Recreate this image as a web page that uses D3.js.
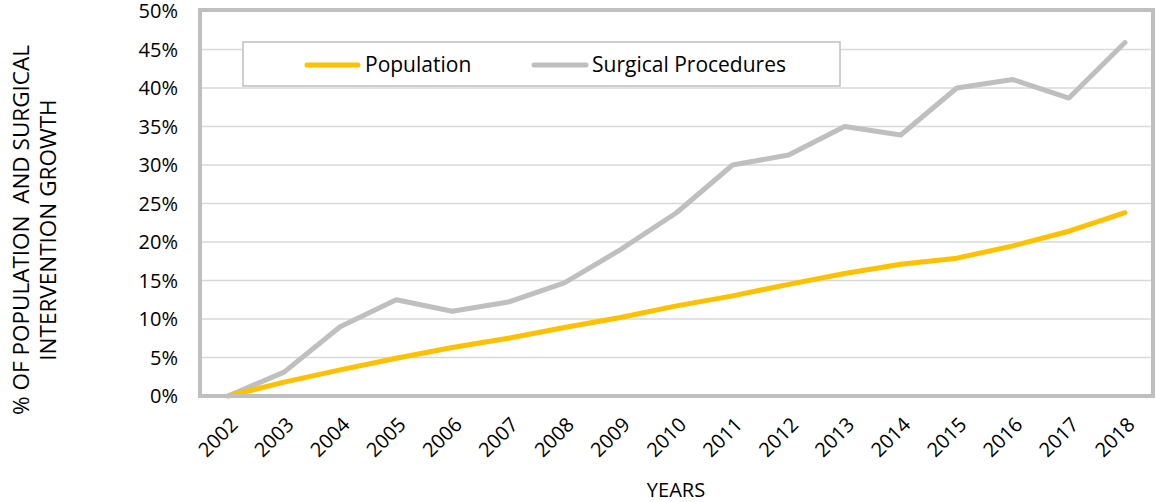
<!DOCTYPE html>
<html>
<head>
<meta charset="utf-8">
<script src="https://cdn.jsdelivr.net/npm/d3@7"></script>
<style>
  body { margin: 0; background: #fff; }
  text { font-family: "Open Sans", "Noto Sans", sans-serif; fill: #000; }
</style>
</head>
<body>
<svg id="chart" width="1156" height="502"></svg>
<script>
// data
var years = ["2002","2003","2004","2005","2006","2007","2008","2009","2010","2011","2012","2013","2014","2015","2016","2017","2018"];
var population = [0, 1.8, 3.4, 4.9, 6.3, 7.5, 8.9, 10.2, 11.7, 13.0, 14.5, 15.9, 17.1, 17.9, 19.5, 21.4, 23.8];
var surgical = [0, 3.1, 9.0, 12.5, 11.0, 12.2, 14.7, 19.0, 23.8, 30.0, 31.3, 35.0, 33.9, 40.0, 41.1, 38.7, 45.9];
var yTicks = [0, 5, 10, 15, 20, 25, 30, 35, 40, 45, 50];

var svg = d3.select("#chart");
var plotL = 200, plotR = 1153, plotT = 11, plotB = 396;

var x = d3.scalePoint().domain(years).range([plotL, plotR]).padding(0.5);
var y = d3.scaleLinear().domain([0, 50]).range([plotB, plotT]);

// gridlines
svg.append("g").selectAll("line").data(yTicks).enter().append("line")
  .attr("x1", plotL).attr("x2", plotR)
  .attr("y1", d => y(d)).attr("y2", d => y(d))
  .style("stroke", "#d9d9d9").style("stroke-width", 1.5);

// y tick labels
svg.append("g").selectAll("text").data(yTicks).enter().append("text")
  .attr("x", 178).attr("y", d => y(d)).attr("dy", "0.35em")
  .attr("text-anchor", "end").style("font-size", "20px")
  .text(d => d + "%");

// x tick labels
svg.append("g").selectAll("text").data(years).enter().append("text")
  .attr("transform", d => "translate(" + (x(d) + 11) + "," + 426 + ") rotate(-45)")
  .attr("text-anchor", "end").style("font-size", "20px")
  .text(d => d);

// lines
var line = d3.line().x((d, i) => x(years[i])).y(d => y(d));
svg.append("path").datum(surgical).attr("d", line)
  .style("fill", "none").style("stroke", "#bfbfbf").style("stroke-width", 5)
  .style("stroke-linejoin", "round").style("stroke-linecap", "round");
svg.append("path").datum(population).attr("d", line)
  .style("fill", "none").style("stroke", "#ffc000").style("stroke-width", 5)
  .style("stroke-linejoin", "round").style("stroke-linecap", "round");

// plot border
svg.append("rect").attr("x", plotL).attr("y", plotT - 1).attr("width", plotR - plotL).attr("height", plotB - plotT + 1)
  .style("fill", "none").style("stroke", "#bfbfbf").style("stroke-width", 4);

// legend
svg.append("rect").attr("x", 243).attr("y", 42).attr("width", 597).attr("height", 44)
  .style("fill", "#fff").style("stroke", "#bfbfbf").style("stroke-width", 1.5);
svg.append("line").attr("x1", 307).attr("x2", 358).attr("y1", 65).attr("y2", 65)
  .style("stroke", "#ffc000").style("stroke-width", 5).style("stroke-linecap", "round");
svg.append("text").attr("x", 365).attr("y", 65).attr("dy", "0.35em").style("font-size", "21px").text("Population");
svg.append("line").attr("x1", 534).attr("x2", 586).attr("y1", 65).attr("y2", 65)
  .style("stroke", "#bfbfbf").style("stroke-width", 5).style("stroke-linecap", "round");
svg.append("text").attr("x", 592).attr("y", 65).attr("dy", "0.35em").style("font-size", "21px").text("Surgical Procedures");

// axis titles
svg.append("text").attr("transform", "translate(21,230) rotate(-90)").attr("text-anchor", "middle")
  .attr("dy", "0.35em").style("font-size", "22.5px").style("white-space", "pre").text("% OF POPULATION  AND SURGICAL");
svg.append("text").attr("transform", "translate(48,230) rotate(-90)").attr("text-anchor", "middle")
  .attr("dy", "0.35em").style("font-size", "22.5px").text("INTERVENTION GROWTH");
svg.append("text").attr("x", 676).attr("y", 490).attr("text-anchor", "middle")
  .attr("dy", "0.35em").style("font-size", "20px").text("YEARS");
</script>
</body>
</html>
